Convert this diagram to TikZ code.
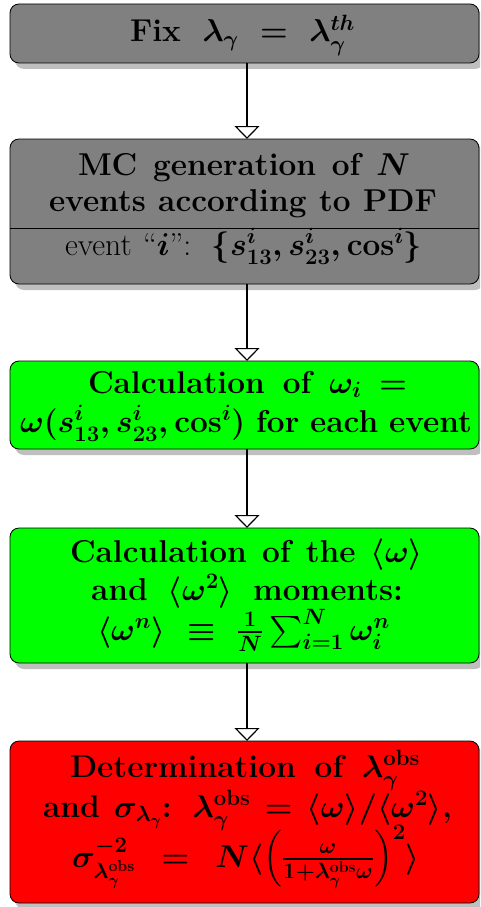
\RequirePackage{fix-cm}
\documentclass[tikz,border=0pt]{standalone}
\usepackage{amsmath}
\usepackage{exscale}
\AtBeginDocument{\DeclareFontShape{OMX}{cmex}{m}{n}{<-> cmex10}{}}
\usetikzlibrary{shadows,arrows.meta}
\tikzset{
 box/.style={draw=black, line width=0.8pt, rounded corners=9pt, minimum width=469pt, inner sep=0pt, outer sep=0pt,
   drop shadow={shadow xshift=5pt, shadow yshift=-6pt, fill=black!25, opacity=1}},
 txt/.style={anchor=base, inner sep=0pt, font=\fontsize{31.6}{38}\selectfont\bfseries\boldmath},
 arr/.style={line width=1.2pt, -{Triangle[open, width=25pt, length=13pt, line width=1.2pt]}},
}
\begin{document}
\begin{tikzpicture}[x=1pt,y=-1pt]
\useasboundingbox (0,0) rectangle (480,907);
\clip (0,0) rectangle (480,907);
\node[box, fill=gray, minimum height=59pt] (b1) at (244.5,33.5) {};
\node[box, fill=gray, minimum height=145pt] (b2) at (244.5,211.5) {};
\node[box, fill=green, minimum height=88pt] (b3) at (244.5,405) {};
\node[box, fill=green, minimum height=135pt] (b4) at (244.5,595.5) {};
\node[box, fill=red, minimum height=162pt] (b5) at (244.5,822) {};
\coordinate (d) at (0,228);
\draw[line width=0.8pt] (b2.west |- d) -- (b2.east |- d);

\node[txt] (t1) at (242.5,42) {\makebox[225pt][s]{Fix $\lambda_\gamma$ $=$ $\lambda_\gamma^{th}$}};
\node[txt] (t2a) at (244,175) {\makebox[332pt][s]{MC generation of $N$}};
\node[txt] (t2b) at (243,211) {\makebox[388pt][s]{events according to PDF}};
\node[txt] (t2c) at (243.5,255) {\makebox[357pt][s]{{\mdseries event ``$i$'':} $\{s^i_{13}, s^i_{23}, \cos^i\}$}};
\node[txt] (t3a) at (247.5,393) {\makebox[319pt][s]{Calculation of $\omega_i$ $=$}};
\node[txt] (t3b) at (246,432) {\makebox[452pt][s]{$\omega(s^i_{13}, s^i_{23}, \cos^i)$ for each event}};
\node[txt] (t4a) at (246.5,562) {\makebox[353pt][s]{Calculation of the $\langle\omega\rangle$}};
\node[txt] (t4b) at (247,600) {\makebox[312pt][s]{and $\langle\omega^2\rangle$ moments:}};
\node[txt] (t4c) at (243.5,640) {\makebox[293pt][s]{$\langle\omega^n\rangle$ $\equiv$ $\frac{1}{N}\sum_{i=1}^{N}\omega_i^n$}};
\node[txt] (t5a) at (245,777) {\makebox[350pt][s]{Determination of $\lambda_\gamma^{\mathrm{obs}}$}};
\node[txt] (t5b) at (247.5,817) {\makebox[409pt][s]{and $\sigma_{\lambda_\gamma}$: $\lambda_\gamma^{\mathrm{obs}}$ $=$ $\langle\omega\rangle/\langle\omega^2\rangle$,}};
\node[txt] (t5c) at (246,867) {\makebox[348pt][s]{$\sigma^{-2}_{\lambda_\gamma^{\mathrm{obs}}}$ $=$ $N\langle\left(\frac{\omega}{1+\lambda_\gamma^{\mathrm{obs}}\omega}\right)^{2}\rangle$}};

\draw[arr] ([xshift=2.5pt]b1.south) -- ([xshift=2.5pt]b2.north);
\draw[arr] ([xshift=2.5pt]b2.south) -- ([xshift=2.5pt]b3.north);
\draw[arr] ([xshift=2.5pt]b3.south) -- ([xshift=2.5pt]b4.north);
\draw[arr] ([xshift=2.5pt]b4.south) -- ([xshift=2.5pt]b5.north);
\end{tikzpicture}
\end{document}
